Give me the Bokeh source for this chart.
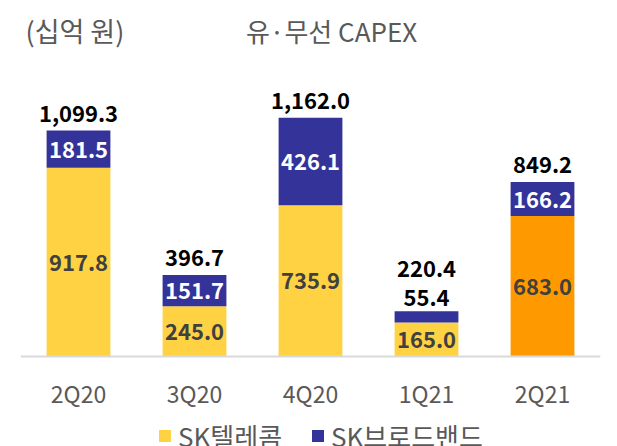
from bokeh.plotting import figure
from bokeh.models import Range1d, FixedTicker, Label, Legend, LegendItem, ColumnDataSource
from bokeh.embed import file_html
from bokeh.resources import INLINE
from bokeh.core.properties import value

# ---- data ----
quarters = ["2Q20", "3Q20", "4Q20", "1Q21", "2Q21"]
skt = [917.8, 245.0, 735.9, 165.0, 683.0]          # SK텔레콤
skb = [181.5, 151.7, 426.1, 55.4, 166.2]           # SK브로드밴드
total = [1099.3, 396.7, 1162.0, 220.4, 849.2]
series_names = ["SK텔레콤", "SK브로드밴드"]
title_text = "유·무선 CAPEX"
unit_text = "(십억 원)"

# ---- styles ----
YELLOW = "#FFD243"
ORANGE = "#FF9900"
NAVY = "#333399"
GRAY = "#595959"
FONT = "Noto Sans CJK KR"
skt_colors = [YELLOW] * 4 + [ORANGE]

FRAME_W = 580
ABOVE_PX, BELOW_PX = 356, 90      # pixels above / below the zero baseline
Y_MAX = 1732
px = Y_MAX / ABOVE_PX             # data units per pixel
UNIT_PX = FRAME_W / len(quarters)

xs = [i + 0.5 for i in range(len(quarters))]

p = figure(frame_width=FRAME_W, frame_height=ABOVE_PX + BELOW_PX, output_backend="svg",
           toolbar_location=None, x_range=Range1d(0, len(quarters)),
           y_range=Range1d(-BELOW_PX * px, Y_MAX), y_axis_location=None,
           min_border_left=20, min_border_right=8, min_border_top=0,
           min_border_bottom=0)
p.outline_line_color = None
p.grid.visible = False
p.background_fill_color = "white"
p.border_fill_color = "white"

src = ColumnDataSource(dict(x=xs, skt=skt, skb=skb, total=total, c=skt_colors,
                            zero=[0] * len(xs)))
r1 = p.vbar(x="x", bottom="zero", top="skt", width=0.55, fill_color="c",
            line_color=None, source=src)
r2 = p.vbar(x="x", bottom="skt", top="total", width=0.55, fill_color=NAVY,
            line_color=None, source=src)

LBL = "22px"
# inner labels for SK텔레콤
p.text(x=xs, y=[v / 2 for v in skt], text=[f"{v:,.1f}" for v in skt],
       text_align="center", text_baseline="middle", text_font=value(FONT),
       text_font_style="bold", text_font_size=LBL, text_color="#404040")

# SK브로드밴드 labels: inside if segment tall enough, else above
in_x, in_y, in_t, out_x, out_y, out_t = [], [], [], [], [], []
tot_y = []
for x, a, b, t in zip(xs, skt, skb, total):
    if b / px >= 22:
        in_x.append(x); in_y.append(a + b / 2); in_t.append(f"{b:,.1f}")
        tot_y.append(t + 17 * px)
    else:
        out_x.append(x); out_y.append(t + 14 * px); out_t.append(f"{b:,.1f}")
        tot_y.append(t + 43 * px)
p.text(x=in_x, y=in_y, text=in_t, text_align="center", text_baseline="middle",
       text_font=value(FONT), text_font_style="bold", text_font_size=LBL,
       text_color="white")
p.text(x=out_x, y=out_y, text=out_t, text_align="center", text_baseline="middle",
       text_font=value(FONT), text_font_style="bold", text_font_size=LBL,
       text_color="black")
p.text(x=xs, y=tot_y, text=[f"{v:,.1f}" for v in total], text_align="center",
       text_baseline="middle", text_font=value(FONT), text_font_style="bold",
       text_font_size=LBL, text_color="black")

# titles
p.add_layout(Label(x=(331 - 20) / UNIT_PX, y=(356 - 30) * px, text=title_text,
                   text_align="center", text_baseline="middle", text_font=FONT,
                   text_font_size="26px", text_color=GRAY))
p.add_layout(Label(x=(25 - 20) / UNIT_PX, y=(356 - 30) * px, text=unit_text,
                   text_align="left", text_baseline="middle", text_font=FONT,
                   text_font_size="27px", text_color=GRAY))

# x axis, drawn at the zero baseline
ax = p.xaxis[0]
ax.fixed_location = 0
ax.ticker = FixedTicker(ticks=xs)
ax.major_label_overrides = {x: q for x, q in zip(xs, quarters)}
ax.axis_line_color = "#D9D9D9"
ax.axis_line_width = 2
ax.major_tick_line_color = None
ax.minor_tick_line_color = None
ax.major_tick_out = 0
ax.major_tick_in = 0
ax.major_label_standoff = 19
ax.major_label_text_font = FONT
ax.major_label_text_font_size = "23px"
ax.major_label_text_color = GRAY

legend = Legend(items=[LegendItem(label=series_names[0], renderers=[r1], index=0),
                       LegendItem(label=series_names[1], renderers=[r2], index=0)],
                orientation="horizontal", location=(157 - 20, -8),
                label_text_font=FONT, label_text_font_size="26px",
                label_text_color=GRAY, glyph_width=15, glyph_height=15,
                spacing=28, padding=0, margin=0, border_line_color=None,
                background_fill_alpha=0, label_standoff=6)
p.add_layout(legend)

open("out.html", "w").write(file_html(p, INLINE))
